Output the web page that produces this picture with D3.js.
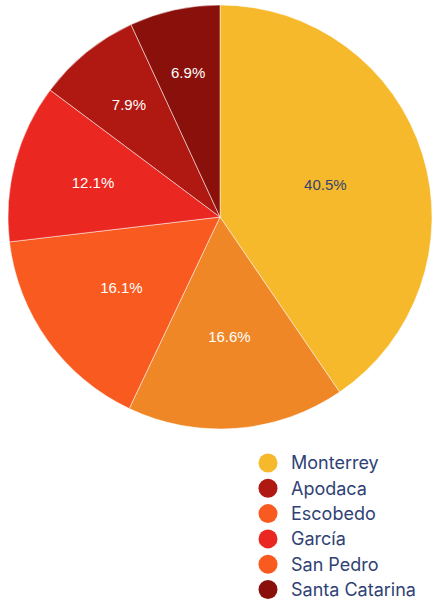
<!DOCTYPE html>
<html>
<head>
<meta charset="utf-8">
<script src="https://cdn.jsdelivr.net/npm/d3@7"></script>
<style>
  html, body { margin: 0; padding: 0; background: #fff; }
  #chart { width: 435px; height: 603px; }
</style>
</head>
<body>
<div id="chart"></div>
<script>
// Slices, clockwise from 12 o'clock
const names = ['Monterrey', 'Apodaca', 'Escobedo', 'García', 'San Pedro', 'Santa Catarina'];
const shares = [40.5, 16.6, 16.1, 12.1, 7.9, 6.9];
const sliceColors = ['#f6b92b', '#ef8726', '#f95a20', '#ea2720', '#b01812', '#8a110b'];
// the legend swatches don't follow the slice colours in the original
const legendColors = ['#f6b92b', '#b01812', '#f95a20', '#ea2720', '#f95a20', '#8a110b'];

const width = 435;
const height = 603;
const cx = 220;
const cy = 217;
const radius = 212;

const svg = d3.select('#chart')
  .append('svg')
  .attr('width', width)
  .attr('height', height);

const pie = d3.pie()
  .sort(null)
  .value(d => d.value);

const data = names.map((name, i) => ({ name, value: shares[i], color: sliceColors[i] }));
const arcs = pie(data);

const arc = d3.arc()
  .innerRadius(0)
  .outerRadius(radius);

const g = svg.append('g')
  .attr('transform', `translate(${cx},${cy})`);

g.selectAll('path.slice')
  .data(arcs)
  .enter().append('path')
  .attr('class', 'slice')
  .attr('d', arc)
  .attr('fill', d => d.data.color)
  .attr('stroke', '#fff')
  .attr('stroke-width', 0.5);

// labels: thin slices push their text further out
function labelRadius(d) {
  const half = (d.endAngle - d.startAngle) / 2;
  const r = 0.85 * radius / (1 + Math.sin(half));
  return Math.max(r, radius * 0.52);
}

g.selectAll('text.pct')
  .data(arcs)
  .enter().append('text')
  .attr('class', 'pct')
  .attr('x', d => Math.sin((d.startAngle + d.endAngle) / 2) * labelRadius(d))
  .attr('y', d => -Math.cos((d.startAngle + d.endAngle) / 2) * labelRadius(d))
  .attr('dy', '0.36em')
  .attr('text-anchor', 'middle')
  .attr('font-family', 'Liberation Sans, Arial, sans-serif')
  .attr('font-size', 15)
  .attr('fill', d => d.index === 0 ? '#34446f' : '#fff')
  .text(d => d3.format('.1f')(d.data.value) + '%');

// legend
const legend = svg.append('g')
  .attr('transform', 'translate(268,463)');

const rows = legend.selectAll('g.row')
  .data(names)
  .enter().append('g')
  .attr('class', 'row')
  .attr('transform', (d, i) => `translate(0,${i * 25.3})`);

rows.append('circle')
  .attr('r', 9.5)
  .attr('fill', (d, i) => legendColors[i]);

rows.append('text')
  .attr('x', 23)
  .attr('dy', '0.36em')
  .attr('font-family', 'Inter, sans-serif')
  .attr('font-size', 18)
  .attr('fill', '#2f4275')
  .text(d => d);
</script>
</body>
</html>
